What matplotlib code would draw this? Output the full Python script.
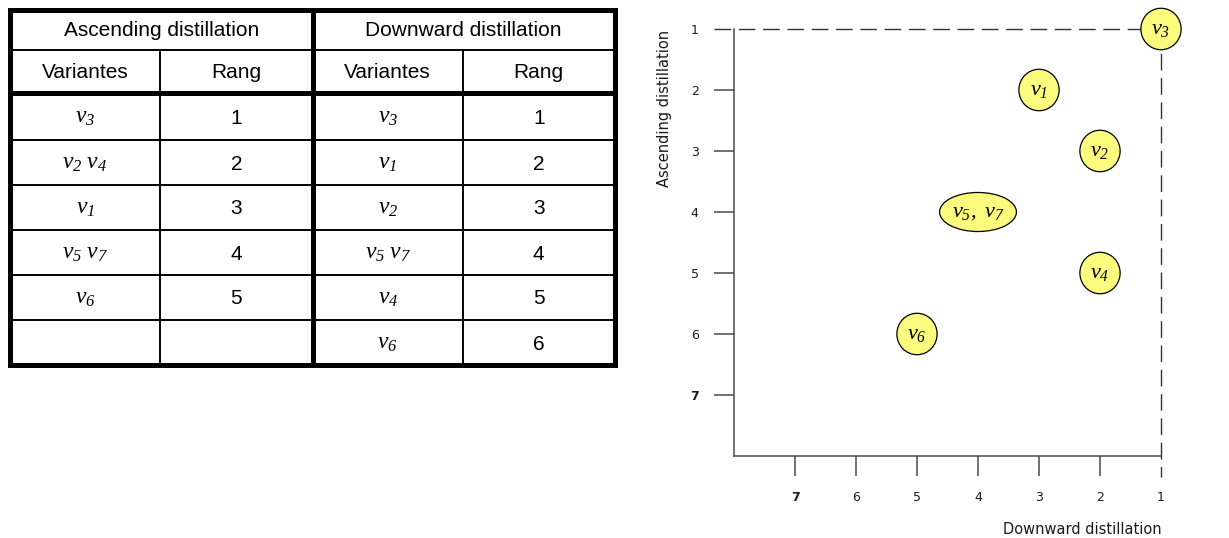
import matplotlib
matplotlib.use("Agg")
import matplotlib.pyplot as plt
from matplotlib.patches import Ellipse

plt.rcParams['mathtext.fontset'] = 'custom'
plt.rcParams['mathtext.it'] = 'Liberation Serif:italic'
plt.rcParams['mathtext.rm'] = 'Liberation Serif:italic'

# ---------------- data ----------------
group_titles = ["Ascending distillation", "Downward distillation"]
col_titles = ["Variantes", "Rang"]
asc_variants = [r"$v_3$", r"$v_2\ v_4$", r"$v_1$",
                r"$v_5\ v_7$", r"$v_6$", ""]
asc_ranks = ["1", "2", "3", "4", "5", ""]
down_variants = [r"$v_3$", r"$v_1$", r"$v_2$",
                 r"$v_5\ v_7$", r"$v_4$", r"$v_6$"]
down_ranks = ["1", "2", "3", "4", "5", "6"]

point_labels = [r"$v_3$", r"$v_1$", r"$v_2$",
                r"$v_5,\ v_7$", r"$v_4$", r"$v_6$"]
point_down = [1, 3, 2, 4, 2, 5]     # x: downward distillation rank
point_asc = [1, 2, 3, 4, 5, 6]      # y: ascending distillation rank
point_wide = [False, False, False, True, False, False]
axis_ticks = [1, 2, 3, 4, 5, 6, 7]

W, H = 1229, 538
fig = plt.figure(figsize=(W / 100, H / 100), dpi=100)

# ---------------- table (pixel coordinates) ----------------
tab = fig.add_axes([0, 0, 1, 1])
tab.set_xlim(0, W)
tab.set_ylim(H, 0)
tab.axis('off')

col_x = [10, 160, 312.5, 463, 614.5]
row_y = [9.5, 50, 93, 140, 185, 230, 275, 320, 365]
thick = 3.6
thin = 1.4
k = 'black'

tab.plot([col_x[0], col_x[-1], col_x[-1], col_x[0], col_x[0]],
         [row_y[0], row_y[0], row_y[-1], row_y[-1], row_y[0]],
         color=k, lw=thick, solid_joinstyle='miter', solid_capstyle='projecting')
tab.plot([col_x[2], col_x[2]], [row_y[0], row_y[-1]], color=k, lw=thick)
for cx in (col_x[1], col_x[3]):
    tab.plot([cx, cx], [row_y[1], row_y[-1]], color=k, lw=thin)
tab.plot([col_x[0], col_x[-1]], [row_y[1], row_y[1]], color=k, lw=thin)
tab.plot([col_x[0], col_x[-1]], [row_y[2], row_y[2]], color=k, lw=thick)
for ry in row_y[3:-1]:
    tab.plot([col_x[0], col_x[-1]], [ry, ry], color=k, lw=thin)

sans = 'Liberation Sans'
fs_tab = 15
for g, title in enumerate(group_titles):
    tab.text((col_x[2 * g] + col_x[2 * g + 2]) / 2, (row_y[0] + row_y[1]) / 2 + 6,
             title, ha='center', va='baseline', fontsize=fs_tab, family=sans)
    for c, ct in enumerate(col_titles):
        tab.text((col_x[2 * g + c] + col_x[2 * g + c + 1]) / 2,
                 (row_y[1] + row_y[2]) / 2 + 7, ct, ha='center', va='baseline',
                 fontsize=fs_tab, family=sans)

columns = [asc_variants, asc_ranks, down_variants, down_ranks]
for c, values in enumerate(columns):
    cx = (col_x[c] + col_x[c + 1]) / 2
    for r, v in enumerate(values):
        if not v:
            continue
        cy = (row_y[r + 2] + row_y[r + 3]) / 2
        if c % 2 == 0:
            tab.text(cx, cy + 6, v, ha='center', va='baseline', fontsize=17)
        else:
            tab.text(cx, cy + 7, v, ha='center', va='baseline', fontsize=fs_tab, family=sans)

# ---------------- scatter chart ----------------
left_px, right_px, top_px, bot_px = 734, 1161, 29, 456
ax = fig.add_axes([left_px / W, 1 - bot_px / H, (right_px - left_px) / W, (bot_px - top_px) / H])
ax.set_xlim(8, 1)
ax.set_ylim(8, 1)
ax.patch.set_alpha(0)
for s in ('top', 'right'):
    ax.spines[s].set_visible(False)
axis_col = '#4a4a4a'
for s in ('left', 'bottom'):
    ax.spines[s].set_color(axis_col)
    ax.spines[s].set_linewidth(1.1)

ax.set_xticks(axis_ticks)
ax.set_yticks(axis_ticks)
ax.set_xticklabels([str(t) for t in axis_ticks])
ax.set_yticklabels([str(t) for t in axis_ticks])
ax.tick_params(axis='both', direction='out', length=14.5, width=1.1, color=axis_col,
               labelsize=9, labelcolor='#1a1a1a')
ax.tick_params(axis='x', pad=11)
ax.tick_params(axis='y', pad=11)
for tk in ax.xaxis.get_major_ticks():
    if tk.get_loc() == 1:
        tk.tick1line.set_visible(False)
for tk in ax.yaxis.get_major_ticks():
    if tk.get_loc() == 1:
        tk.tick1line.set_visible(False)
for lab in ax.get_xticklabels() + ax.get_yticklabels():
    if lab.get_text() == '7':
        lab.set_fontweight('bold')

ext = 8 + 20.5 / 61
ax.plot([ext, 1], [1, 1], color='#333333', lw=1.0, dashes=(12, 5.5), clip_on=False, zorder=2)
ax.plot([1, 1], [1, ext], color='#333333', lw=1.0, dashes=(12, 5.5), clip_on=False, zorder=2)

for lab, xd, ya, wide in zip(point_labels, point_down, point_asc, point_wide):
    w = 1.26 if wide else 0.66
    h = 0.64 if wide else 0.68
    e = Ellipse((xd, ya), w, h, facecolor='#fbfb7d', edgecolor='black', lw=0.9,
                clip_on=False, zorder=3)
    ax.add_patch(e)
    ax.text(xd, ya, lab, ha='center', va='center', fontsize=16, zorder=4, clip_on=False)

fig.text(1162 / W, 1 - 530 / H, "Downward distillation", ha='right', va='center',
         fontsize=10.5, color='#1a1a1a')
fig.text(665 / W, 1 - 108 / H, "Ascending distillation", ha='center', va='center',
         rotation=90, fontsize=10.5, color='#1a1a1a')

fig.savefig("out.png", dpi=100)
